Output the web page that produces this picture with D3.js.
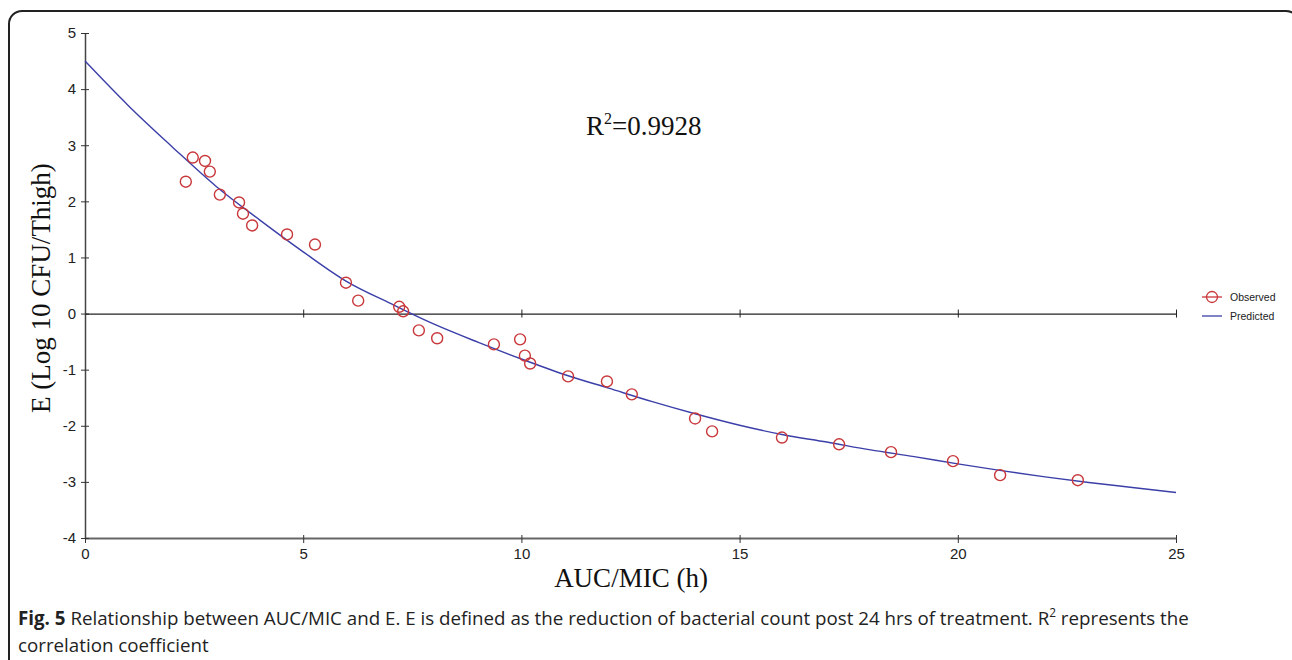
<!DOCTYPE html>
<html>
<head>
<meta charset="utf-8">
<script src="https://cdn.jsdelivr.net/npm/d3@7"></script>
<style>
  body { margin: 0; background: #fff; }
  svg { display: block; }
  .tick text { font-family: Arial, "Liberation Sans", sans-serif; font-size: 15px; fill: #222; }
</style>
</head>
<body>
<svg id="chart" width="1292" height="660"></svg>
<script>
// observed points
const obsAuc = [2.31, 2.47, 2.75, 2.86, 3.09, 3.53, 3.62, 3.83, 4.63, 5.27, 5.98, 6.26, 7.20, 7.29, 7.65, 8.07,
  9.37, 9.97, 10.08, 10.20, 11.07, 11.96, 12.53, 13.98, 14.37, 15.97, 17.28, 18.47, 19.89, 20.97, 22.75];
const obsE = [2.35, 2.78, 2.72, 2.53, 2.12, 1.98, 1.78, 1.57, 1.41, 1.23, 0.55, 0.23, 0.12, 0.04, -0.30, -0.44,
  -0.55, -0.46, -0.75, -0.89, -1.12, -1.21, -1.44, -1.87, -2.10, -2.21, -2.33, -2.47, -2.63, -2.88, -2.97];

// predicted curve, sampled from the figure
const predAuc = [0, 1, 2, 3, 4, 5, 6, 7, 8, 9, 10, 11, 12, 13, 14, 15, 16, 17, 18, 19, 20, 21, 22, 23, 24, 25];
const predE = [4.50, 3.70, 2.97, 2.27, 1.67, 1.10, 0.57, 0.18, -0.19, -0.51, -0.81, -1.09, -1.33, -1.57, -1.79,
  -1.99, -2.16, -2.29, -2.43, -2.55, -2.68, -2.80, -2.91, -3.01, -3.10, -3.19];

const xTicks = [0, 5, 10, 15, 20, 25];
const yTicks = [-4, -3, -2, -1, 0, 1, 2, 3, 4, 5];
const legendLabels = ["Observed", "Predicted"];

const red = "#c8373a";
const blue = "#3b3fa8";

const svg = d3.select("#chart");

// frame round the figure
svg.append("rect")
  .attr("x", 9).attr("y", 11)
  .attr("width", 1290).attr("height", 720)
  .attr("rx", 13)
  .attr("fill", "none")
  .attr("stroke", "#222")
  .attr("stroke-width", 2);

const x = d3.scaleLinear().domain([0, 25]).range([85, 1176]);
const y = d3.scaleLinear().domain([-4, 5]).range([538, 33]);

// bottom axis
const xAxis = svg.append("g")
  .attr("transform", "translate(0," + y(-4) + ")")
  .call(d3.axisBottom(x).tickValues(xTicks).tickSize(5).tickSizeOuter(0).tickPadding(5));
xAxis.select(".domain").attr("stroke", "#666").attr("stroke-width", 2);
xAxis.selectAll(".tick line").attr("stroke", "#333").attr("y1", -3);

// left axis, plain hyphen for the minus sign as in the figure
const yAxis = svg.append("g")
  .attr("transform", "translate(" + x(0) + ",0)")
  .call(d3.axisLeft(y).tickValues(yTicks).tickSize(4).tickSizeOuter(0).tickPadding(5)
    .tickFormat(d => String(d)));
yAxis.select(".domain").attr("stroke", "#444").attr("stroke-width", 1.5);
yAxis.selectAll(".tick line").attr("stroke", "#333").attr("x2", 4).attr("x1", -4);

// zero line with its own ticks
const zero = svg.append("g")
  .attr("transform", "translate(0," + y(0) + ")")
  .call(d3.axisBottom(x).tickValues(xTicks.slice(1)).tickSize(4).tickSizeOuter(0).tickFormat(""));
zero.select(".domain").attr("stroke", "#222").attr("stroke-width", 1.3);
zero.selectAll(".tick line").attr("stroke", "#222").attr("y1", -4);

// predicted curve
const line = d3.line()
  .x((d, i) => x(predAuc[i]))
  .y(d => y(d))
  .curve(d3.curveMonotoneX);

svg.append("path")
  .datum(predE)
  .attr("d", line)
  .attr("fill", "none")
  .attr("stroke", blue)
  .attr("stroke-width", 1.4);

// observed points
svg.selectAll(".obs")
  .data(obsE)
  .enter()
  .append("circle")
  .attr("class", "obs")
  .attr("cx", (d, i) => x(obsAuc[i]))
  .attr("cy", d => y(d))
  .attr("r", 5.5)
  .attr("fill", "none")
  .attr("stroke", red)
  .attr("stroke-width", 1.4);

// R2 label
const r2 = svg.append("text")
  .attr("x", 586).attr("y", 135)
  .attr("font-family", "'Times New Roman', 'Liberation Serif', serif")
  .attr("font-size", 27).attr("fill", "#111");
r2.append("tspan").text("R");
r2.append("tspan").text("2").attr("font-size", 16).attr("dy", -11);
r2.append("tspan").text("=0.9928").attr("dy", 11);

// axis titles
svg.append("text")
  .attr("x", 631).attr("y", 587)
  .attr("text-anchor", "middle")
  .attr("font-family", "'Times New Roman', 'Liberation Serif', serif")
  .attr("font-size", 27).attr("fill", "#111")
  .text("AUC/MIC (h)");

svg.append("text")
  .attr("transform", "translate(50,288) rotate(-90)")
  .attr("text-anchor", "middle")
  .attr("font-family", "'Times New Roman', 'Liberation Serif', serif")
  .attr("font-size", 27).attr("fill", "#111")
  .text("E (Log 10 CFU/Thigh)");

// legend
const legend = svg.append("g")
  .attr("font-family", "Arial, 'Liberation Sans', sans-serif")
  .attr("font-size", 10.5).attr("fill", "#222");

legendLabels.forEach(function (label, i) {
  const ly = 297 + i * 19;
  legend.append("line")
    .attr("x1", 1202).attr("x2", 1222)
    .attr("y1", ly).attr("y2", ly)
    .attr("stroke", i === 0 ? red : blue)
    .attr("stroke-width", 1.3);
  if (i === 0) {
    legend.append("circle")
      .attr("cx", 1212).attr("cy", ly).attr("r", 5.5)
      .attr("fill", "none").attr("stroke", red).attr("stroke-width", 1.3);
  }
  legend.append("text")
    .attr("x", 1230).attr("y", ly + 4)
    .text(label);
});

// caption (condensed face in the figure, so squeeze it horizontally)
const cap = svg.append("g")
  .attr("font-family", "'Open Sans', 'Noto Sans', sans-serif")
  .attr("font-size", 19).attr("fill", "#222");

const line1 = cap.append("text").attr("x", 0).attr("y", 0);
line1.append("tspan").attr("font-weight", "bold").text("Fig. 5");
line1.append("tspan").text(" Relationship between AUC/MIC and E. E is defined as the reduction of bacterial count post 24 hrs of treatment. R");
line1.append("tspan").text("2").attr("font-size", 12).attr("dy", -8);
line1.append("tspan").text(" represents the").attr("dy", 8);

const line2 = cap.append("text").attr("x", 0).attr("y", 0).text("correlation coefficient");

const w1 = line1.node().getComputedTextLength();
const sx = (1190 - 18) / w1;
line1.attr("transform", "translate(18,625) scale(" + sx + ",1)");
line2.attr("transform", "translate(18,652) scale(" + sx + ",1)");
</script>
</body>
</html>
